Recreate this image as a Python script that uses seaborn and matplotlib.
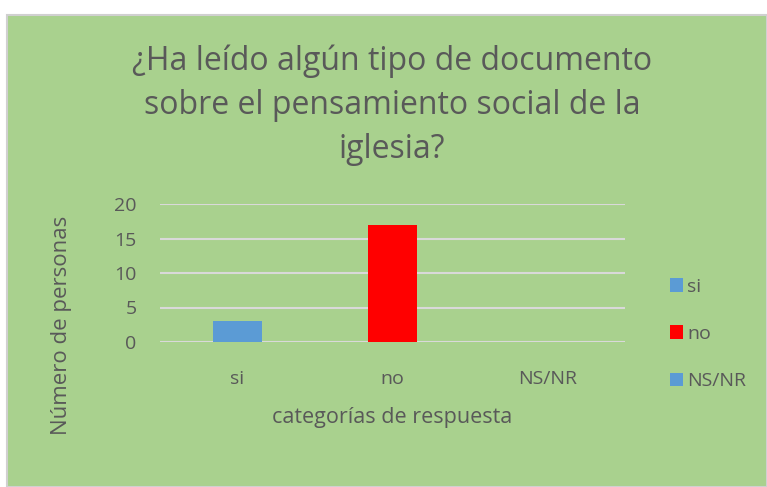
import matplotlib
matplotlib.use('Agg')
import matplotlib.pyplot as plt
import seaborn as sns
import pandas as pd
from matplotlib.patches import Rectangle

# Data
categories = ['si', 'no', 'NS/NR']
personas = [3, 17, 0]
bar_colors = ['#5B9BD5', '#FF0000', '#5B9BD5']

df = pd.DataFrame({'categoria': categories, 'personas': personas})

sns.set_style('white')
plt.rcParams['font.family'] = ['Open Sans', 'DejaVu Sans']

green = '#A9D18E'
txt = '#595959'

fig = plt.figure(figsize=(7.67, 4.87), dpi=100, facecolor='white')
fig.patches.append(Rectangle((7 / 767, 0), 1 - 7 / 767, 1 - 15 / 487,
                             transform=fig.transFigure, facecolor=green,
                             edgecolor='#D0D0D0', linewidth=1.5, zorder=-5))

ax = fig.add_axes([160 / 767, 1 - 342 / 487, 465 / 767, 138 / 487])
ax.set_facecolor('none')

sns.barplot(data=df, x='categoria', y='personas', hue='categoria',
            palette=bar_colors, width=0.32, saturation=1, linewidth=0,
            ax=ax, legend=True)

ax.set_ylim(0, 20)
ax.set_yticks([0, 5, 10, 15, 20])
ax.yaxis.grid(True, color='#D9D9D9', linewidth=1.5)
ax.set_axisbelow(True)
for s in ax.spines.values():
    s.set_visible(False)
ax.tick_params(axis='both', length=0, labelsize=14, colors=txt)
ax.tick_params(axis='x', pad=20)
ax.tick_params(axis='y', pad=17)

ax.set_xlabel('categorías de respuesta', fontsize=15.5, color=txt, labelpad=14)
ax.set_ylabel('')
fig.text(62 / 767, 1 - 325 / 487, 'Número de personas', rotation=90,
         ha='center', va='center', fontsize=16, color=txt)

fig.text(392 / 767, 1 - 105 / 487,
         '¿Ha leído algún tipo de documento\nsobre el pensamiento social de la\niglesia?',
         ha='center', va='center', fontsize=23, color=txt, linespacing=1.45)

handles, labels = ax.get_legend_handles_labels()
for h in handles:
    h.set_linewidth(0)
ax.legend(handles, labels, loc='center left',
          bbox_to_anchor=(652 / 767, 1 - 334 / 487), bbox_transform=fig.transFigure,
          frameon=False, fontsize=14, labelcolor=txt, handlelength=0.7,
          handleheight=0.7, handletextpad=0.2, labelspacing=1.5)

fig.savefig('out.png', dpi=100, facecolor=fig.get_facecolor())
